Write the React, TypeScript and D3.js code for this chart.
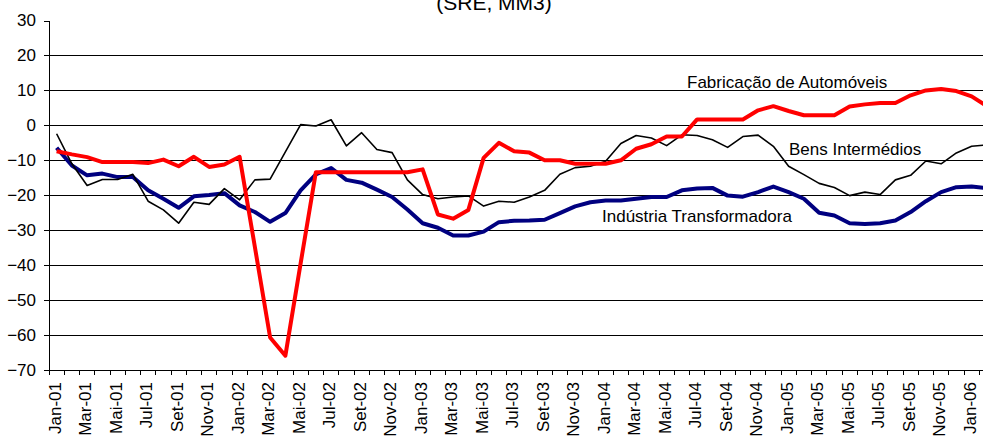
import { useEffect, useRef } from "react";
import * as d3 from "d3";

// month names as printed on the axis (Portuguese)
const monthNames = ["Jan", "Fev", "Mar", "Abr", "Mai", "Jun", "Jul", "Ago", "Set", "Out", "Nov", "Dez"];
const years = ["01", "02", "03", "04", "05", "06"];
const months = years.flatMap(y => monthNames.map(m => `${m}-${y}`)).slice(0, 62); // Jan-01 .. Fev-06

const yTicks = [-70, -60, -50, -40, -30, -20, -10, 0, 10, 20, 30];
const gridTicks = [-60, -50, -40, -30, -20, -10, 0, 10, 20];

const automoveis = [
  -7.4, -8.3, -9.1, -10.5, -10.5, -10.5, -10.8, -9.8, -11.7, -9.0, -11.9, -11.2,
  -9.0, -34.8, -60.7, -65.9, -39.5, -13.4, -13.4, -13.4, -13.4, -13.4, -13.4, -13.4,
  -12.6, -25.5, -26.7, -24.2, -9.3, -5.0, -7.4, -7.8, -10.0, -10.0, -11.0, -11.0,
  -11.0, -10.0, -6.7, -5.4, -3.2, -3.2, 1.7, 1.7, 1.7, 1.7, 4.3, 5.5,
  4.1, 2.9, 2.9, 2.9, 5.4, 6.0, 6.4, 6.4, 8.6, 10.0, 10.4, 9.8,
  8.3, 5.5,
];

const intermedios = [
  -2.4, -11.0, -17.2, -15.5, -15.5, -14.0, -21.7, -24.2, -28.0, -22.0, -22.6, -18.1,
  -21.3, -15.6, -15.4, -7.6, 0.2, -0.2, 1.6, -5.9, -2.1, -6.9, -7.8, -15.6,
  -19.8, -21.0, -20.5, -20.2, -23.1, -21.7, -22.0, -20.5, -18.6, -14.0, -12.1, -11.7,
  -10.3, -5.2, -2.9, -3.6, -5.8, -2.7, -2.9, -4.1, -6.3, -3.2, -2.8, -6.0,
  -11.7, -14.1, -16.6, -17.8, -20.1, -19.1, -19.8, -15.6, -14.3, -10.2, -11.0, -7.9,
  -6.0, -5.6,
];

const transformadora = [
  -6.4, -11.5, -14.3, -13.8, -14.8, -14.8, -18.6, -21.0, -23.6, -20.3, -19.9, -19.4,
  -22.9, -24.8, -27.6, -25.1, -18.6, -14.0, -12.2, -15.6, -16.4, -18.4, -20.5, -24.1,
  -28.0, -29.3, -31.5, -31.5, -30.4, -27.7, -27.3, -27.2, -27.0, -25.1, -23.2, -22.0,
  -21.5, -21.5, -21.0, -20.5, -20.5, -18.6, -18.1, -17.9, -20.1, -20.4, -19.1, -17.5,
  -19.1, -21.0, -25.0, -25.8, -28.0, -28.2, -28.0, -27.2, -24.8, -21.7, -19.1, -17.7,
  -17.5, -18.0,
];

const FONT = "'Liberation Sans', Arial, sans-serif";

export default function App() {
  const ref = useRef<SVGSVGElement>(null);

  useEffect(() => {
    document.body.style.margin = "0";
    const width = 983;
    const height = 436;
    const left = 49;
    const step = 15.25;

    const svg = d3.select(ref.current);
    svg.selectAll("*").remove();
    svg.attr("width", width).attr("height", height).style("display", "block");

    const x = d3.scaleBand<string>()
      .domain(months)
      .range([left, left + months.length * step])
      .padding(0);

    const y = d3.scaleLinear()
      .domain([-70, 30])
      .range([370, 20.5]);

    const cx = (i: number) => (x(months[i]) as number) + x.bandwidth() / 2;

    // title (top line is cut off in the original)
    svg.append("text")
      .attr("x", 494)
      .attr("y", 10)
      .attr("text-anchor", "middle")
      .style("font-family", FONT)
      .style("font-size", "21px")
      .text("(SRE, MM3)");

    // gridlines
    svg.append("g")
      .selectAll("line")
      .data(gridTicks)
      .enter().append("line")
      .attr("x1", left)
      .attr("x2", width)
      .attr("y1", d => y(d))
      .attr("y2", d => y(d))
      .attr("stroke", "#000")
      .attr("stroke-width", 1)
      .attr("shape-rendering", "crispEdges");

    // y axis
    const yAxis = svg.append("g")
      .attr("transform", `translate(${left},0)`)
      .call(d3.axisLeft(y).tickValues(yTicks).tickSize(5).tickSizeOuter(0).tickFormat(d3.format("d")));
    yAxis.select(".domain").attr("stroke", "#000").attr("shape-rendering", "crispEdges");
    yAxis.selectAll(".tick line").attr("stroke", "#000").attr("shape-rendering", "crispEdges");
    yAxis.selectAll("text")
      .attr("x", -13)
      .style("font-family", FONT)
      .style("font-size", "17px")
      .attr("fill", "#000");

    // x axis: line plus ticks between categories
    svg.append("line")
      .attr("x1", left)
      .attr("x2", width)
      .attr("y1", y(-70))
      .attr("y2", y(-70))
      .attr("stroke", "#000")
      .attr("shape-rendering", "crispEdges");

    svg.append("g")
      .selectAll("line")
      .data(months)
      .enter().append("line")
      .attr("x1", d => x(d) as number)
      .attr("x2", d => x(d) as number)
      .attr("y1", y(-70))
      .attr("y2", y(-70) + 5)
      .attr("stroke", "#000")
      .attr("shape-rendering", "crispEdges");

    svg.append("g")
      .selectAll("text")
      .data(months.filter((_, i) => i % 2 === 0))
      .enter().append("text")
      .attr("transform", d => `translate(${(x(d) as number) + x.bandwidth() / 2 - 2},${382}) rotate(-90)`)
      .attr("dy", "0.35em")
      .attr("text-anchor", "end")
      .style("font-family", FONT)
      .style("font-size", "17px")
      .text(d => d);

    // series
    const line = d3.line<number>()
      .x((_, i) => cx(i))
      .y(d => y(d));

    const series = [
      { data: transformadora, color: "#000080", w: 4 },
      { data: intermedios, color: "#000", w: 1.6 },
      { data: automoveis, color: "#ff0000", w: 4 },
    ];

    series.forEach(s => {
      svg.append("path")
        .datum(s.data)
        .attr("d", line)
        .attr("fill", "none")
        .attr("stroke", s.color)
        .attr("stroke-width", s.w)
        .attr("stroke-linejoin", "round");
    });

    // labels on the lines
    const labels = [
      { text: "Fabricação de Automóveis", x: 687, y: 88 },
      { text: "Bens Intermédios", x: 789, y: 155 },
      { text: "Indústria Transformadora", x: 602, y: 222 },
    ];
    svg.append("g")
      .selectAll("text")
      .data(labels)
      .enter().append("text")
      .attr("x", d => d.x)
      .attr("y", d => d.y)
      .style("font-family", FONT)
      .style("font-size", "17px")
      .text(d => d.text);
  }, []);

  return <svg ref={ref}></svg>;
}
